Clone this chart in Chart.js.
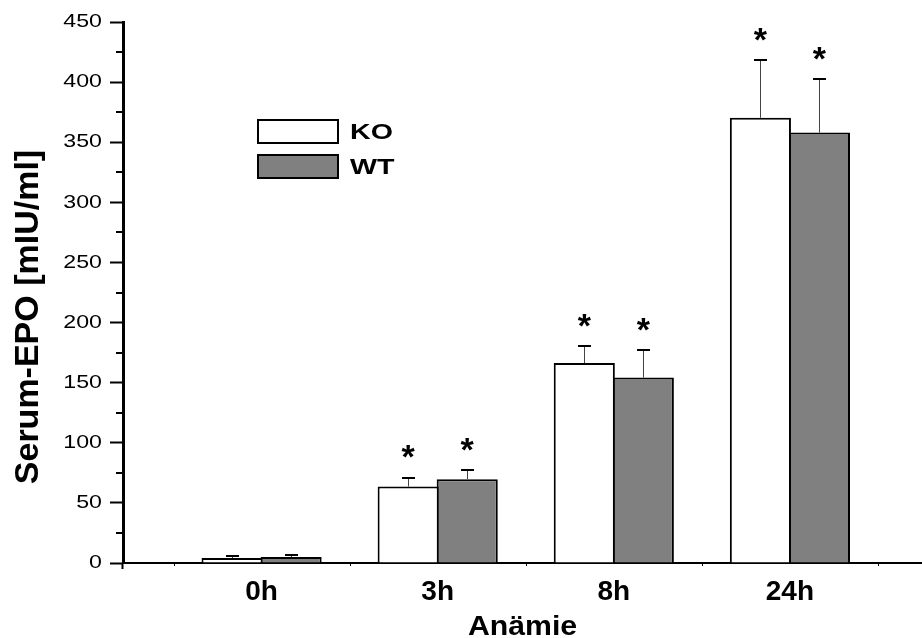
<!DOCTYPE html>
<html>
<head>
<meta charset="utf-8">
<title>Serum-EPO</title>
<script src="https://cdn.jsdelivr.net/npm/chart.js@4.4.1/dist/chart.umd.min.js"></script>
<style>
  html, body { margin: 0; padding: 0; background: #fff; }
  canvas { display: block; }
</style>
</head>
<body>
<canvas id="chart" width="922" height="638"></canvas>
<script>
// ==== Data ====
const groups = ["0h", "3h", "8h", "24h"];
const groupPos = [1, 2, 3, 4];
const koMean = [4.2, 63.6, 166.3, 370.3];
const koSd = [1.6, 7.2, 14.0, 47.7];
const wtMean = [5.0, 69.7, 154.2, 358.0];
const wtSd = [1.7, 7.5, 22.7, 44.2];
const koSig = [false, true, true, true];
const wtSig = [false, true, true, true];
const yTickValues = [0, 50, 100, 150, 200, 250, 300, 350, 400, 450];
const yMinorValues = [25, 75, 125, 175, 225, 275, 325, 375, 425];
const xBoundaries = [0.5, 1.5, 2.5, 3.5, 4.5];

const FONT = '"Liberation Sans", Arial, Helvetica, sans-serif';

function toPoints(values) {
  return values.map((v, i) => ({ x: groupPos[i], y: v }));
}

// ==== Error bars + significance stars ====
const errorBars = {
  id: "errorBars",
  afterDatasetsDraw(chart) {
    const ctx = chart.ctx;
    const y = chart.scales.y;
    ctx.save();
    chart.data.datasets.forEach((ds, di) => {
      const meta = chart.getDatasetMeta(di);
      meta.data.forEach((bar, i) => {
        const top = y.getPixelForValue(ds.data[i].y + ds.sd[i]);
        const x = Math.round(bar.x) + 0.5;
        ctx.strokeStyle = "#444";
        ctx.lineWidth = 1;
        ctx.beginPath();
        ctx.moveTo(x, bar.y);
        ctx.lineTo(x, top);
        ctx.stroke();
        ctx.strokeStyle = "#000";
        ctx.lineWidth = 2;
        ctx.beginPath();
        ctx.moveTo(x - 6.5, Math.round(top));
        ctx.lineTo(x + 6.5, Math.round(top));
        ctx.stroke();
        if (ds.sig[i]) {
          ctx.fillStyle = "#000";
          ctx.font = "bold 34px " + FONT;
          ctx.textAlign = "center";
          ctx.textBaseline = "alphabetic";
          ctx.fillText("*", bar.x, top - 9.5);
        }
      });
    });
    ctx.restore();
  }
};

// ==== Axis extras: stretched y labels, minor ticks, titles, legend ====
const axisExtras = {
  id: "axisExtras",
  afterDraw(chart) {
    const ctx = chart.ctx;
    const a = chart.chartArea;
    const x = chart.scales.x;
    const y = chart.scales.y;
    ctx.save();
    ctx.fillStyle = "#000";
    ctx.strokeStyle = "#000";

    // y tick labels (the original font is drawn wide)
    ctx.font = "19px " + FONT;
    ctx.textAlign = "right";
    ctx.textBaseline = "middle";
    y.ticks.forEach(t => {
      ctx.save();
      ctx.translate(a.left - 21, y.getPixelForValue(t.value));
      ctx.scale(1.22, 1);
      ctx.fillText(String(t.value), 0, 0);
      ctx.restore();
    });

    // minor y ticks
    ctx.lineWidth = 2;
    yMinorValues.forEach(v => {
      const py = Math.round(y.getPixelForValue(v));
      ctx.beginPath();
      ctx.moveTo(a.left - 7, py);
      ctx.lineTo(a.left, py);
      ctx.stroke();
    });

    // y axis runs a little below the x axis, tiny marks between groups
    ctx.beginPath();
    ctx.moveTo(a.left - 0.5, a.bottom);
    ctx.lineTo(a.left - 0.5, a.bottom + 6);
    ctx.stroke();
    ctx.lineWidth = 1;
    xBoundaries.forEach(v => {
      const px = Math.round(x.getPixelForValue(v)) + 0.5;
      ctx.beginPath();
      ctx.moveTo(px, a.bottom);
      ctx.lineTo(px, a.bottom + 3);
      ctx.stroke();
    });

    // y title
    ctx.save();
    ctx.translate(38, 317);
    ctx.rotate(-Math.PI / 2);
    ctx.font = "bold 34px " + FONT;
    ctx.textAlign = "center";
    ctx.textBaseline = "alphabetic";
    ctx.fillText("Serum-EPO [mIU/ml]", 0, 0);
    ctx.restore();

    // x title
    ctx.save();
    ctx.translate((a.left + a.right) / 2, 635);
    ctx.scale(1.08, 1);
    ctx.font = "bold 28px " + FONT;
    ctx.textAlign = "center";
    ctx.textBaseline = "alphabetic";
    ctx.fillText("Anämie", 0, 0);
    ctx.restore();

    // legend
    chart.data.datasets.forEach((ds, i) => {
      const bx = a.left + 135;
      const by = a.top + 98 + i * 35;
      ctx.fillStyle = ds.backgroundColor;
      ctx.fillRect(bx, by, 80, 23);
      ctx.lineWidth = 2;
      ctx.strokeRect(bx, by, 80, 23);
      ctx.save();
      ctx.translate(bx + 92, by + 18.5);
      ctx.scale(1.3, 1);
      ctx.fillStyle = "#000";
      ctx.font = "bold 22px " + FONT;
      ctx.textAlign = "left";
      ctx.textBaseline = "alphabetic";
      ctx.fillText(ds.label, 0, 0);
      ctx.restore();
    });
    ctx.restore();
  }
};

new Chart(document.getElementById("chart"), {
  type: "bar",
  data: {
    datasets: [
      {
        label: "KO",
        data: toPoints(koMean),
        sd: koSd,
        sig: koSig,
        backgroundColor: "#ffffff",
        borderColor: "#000000",
        borderWidth: 2
      },
      {
        label: "WT",
        data: toPoints(wtMean),
        sd: wtSd,
        sig: wtSig,
        backgroundColor: "#808080",
        borderColor: "#000000",
        borderWidth: 2
      }
    ]
  },
  options: {
    responsive: false,
    animation: false,
    devicePixelRatio: 1,
    categoryPercentage: 0.6705,
    barPercentage: 1.035,
    layout: { padding: { left: 110, top: 22, right: 0, bottom: 16 } },
    plugins: {
      legend: { display: false },
      tooltip: { enabled: false }
    },
    scales: {
      x: {
        type: "linear",
        offset: false,
        min: 0.213,
        max: 4.75,
        afterBuildTicks: axis => {
          axis.ticks = groupPos.map(v => ({ value: v }));
        },
        ticks: {
          color: "#000",
          padding: 15.5,
          maxRotation: 0,
          autoSkip: false,
          font: { family: FONT, size: 28, weight: "bold", lineHeight: 1 },
          callback: v => groups[groupPos.indexOf(v)] ?? ""
        },
        grid: { display: false, drawTicks: false, offset: false },
        border: { display: true, color: "#000", width: 2 }
      },
      y: {
        min: 0,
        max: 450,
        afterBuildTicks: axis => {
          axis.ticks = yTickValues.map(v => ({ value: v }));
        },
        ticks: { display: false },
        grid: {
          drawOnChartArea: false,
          drawTicks: true,
          tickLength: 13,
          tickWidth: 2,
          tickColor: "#000"
        },
        border: { display: true, color: "#000", width: 3 }
      }
    }
  },
  plugins: [errorBars, axisExtras]
});
</script>
</body>
</html>
